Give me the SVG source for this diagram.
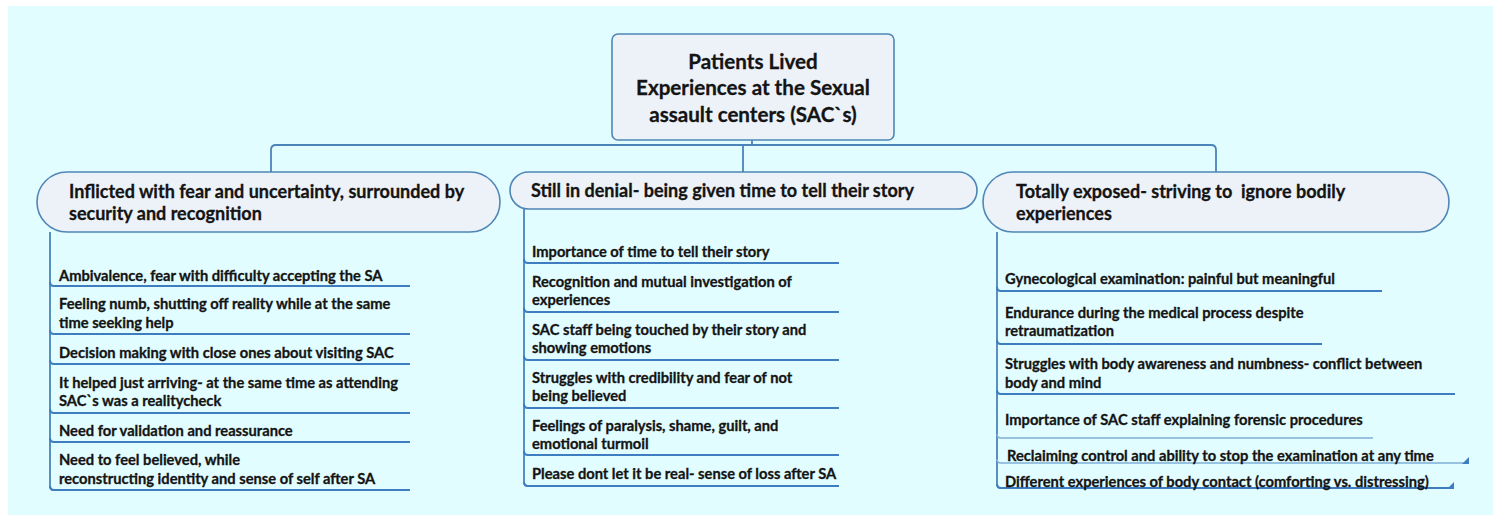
<svg xmlns="http://www.w3.org/2000/svg" width="1493" height="515" viewBox="0 0 1493 515">
<style>
.bg{fill:#e2fdff}
.box{fill:#edf2f9;stroke:#4f86b6;stroke-width:1.6}
.con{fill:none;stroke:#4a84b8;stroke-width:1.8}
.ul{fill:none;stroke:#3d7dc0;stroke-width:2}
.ul2{fill:none;stroke:#7fb0d8;stroke-width:1.5}
.tri{fill:#3d7dc0}
text{font-family:Lato,"Open Sans","Liberation Sans",sans-serif;font-weight:bold;fill:#141414;stroke:#141414;stroke-width:0.3}
.t0{font-size:20.6px}
.t1{font-size:18px}
.t2{font-size:14.7px}
</style>
<rect x="0" y="0" width="1493" height="515" fill="#ffffff"/>
<rect class="bg" x="8" y="6" width="1485" height="509"/>
<g id="connectors">
<path class="con" d="M752 140 V145 M271 172 V150 Q271 145 276 145 H1211 Q1216 145 1216 150 V172 M743 145 V172"/>
<path class="con" d="M50 232 V486 Q50 490 54 490"/>
<path class="con" d="M524 209 V482 Q524 486 528 486"/>
<path class="con" d="M997 232 V484 Q997 488 1001 488"/>
</g>
<g id="root">
<rect class="box" x="612" y="34" width="282" height="106" rx="6"/>
<text class="t0" x="753" y="69" text-anchor="middle">Patients Lived</text>
<text class="t0" x="753" y="95" text-anchor="middle">Experiences at the Sexual</text>
<text class="t0" x="753" y="122" text-anchor="middle">assault centers (SAC`s)</text>
</g>
<g id="branch1">
<rect class="box" x="37" y="172" width="463" height="60" rx="30"/>
<text class="t1" x="69" y="198">Inflicted with fear and uncertainty, surrounded by</text>
<text class="t1" x="69" y="220">security and recognition</text>
</g>
<g id="branch2">
<rect class="box" x="510" y="172" width="467" height="37" rx="18.5"/>
<text class="t1" x="531" y="197">Still in denial- being given time to tell their story</text>
</g>
<g id="branch3">
<rect class="box" x="983" y="172" width="466" height="60" rx="30"/>
<text class="t1" x="1016" y="198" xml:space="preserve">Totally exposed- striving to  ignore bodily</text>
<text class="t1" x="1016" y="220">experiences</text>
</g>
<g id="b1c1"><path class="ul" d="M50 282 Q50 286 54 286 H410"/><text class="t2" x="59" y="281">Ambivalence, fear with difficulty accepting the SA</text></g>
<g id="b1c2"><path class="ul" d="M50 330 Q50 334 54 334 H410"/><text class="t2" x="59" y="309">Feeling numb, shutting off reality while at the same</text><text class="t2" x="59" y="328">time seeking help</text></g>
<g id="b1c3"><path class="ul" d="M50 360 Q50 364 54 364 H410"/><text class="t2" x="59" y="358">Decision making with close ones about visiting SAC</text></g>
<g id="b1c4"><path class="ul" d="M50 409 Q50 413 54 413 H410"/><text class="t2" x="59" y="388">It helped just arriving- at the same time as attending</text><text class="t2" x="59" y="406">SAC`s was a realitycheck</text></g>
<g id="b1c5"><path class="ul" d="M50 438 Q50 442 54 442 H410"/><text class="t2" x="59" y="436">Need for validation and reassurance</text></g>
<g id="b1c6"><path class="ul" d="M50 486 Q50 490 54 490 H410"/><text class="t2" x="59" y="465">Need to feel believed, while</text><text class="t2" x="59" y="484">reconstructing identity and sense of self after SA</text></g>
<g id="b2c1"><path class="ul" d="M524 259 Q524 263 528 263 H839"/><text class="t2" x="532" y="257">Importance of time to tell their story</text></g>
<g id="b2c2"><path class="ul" d="M524 308 Q524 312 528 312 H839"/><text class="t2" x="532" y="287">Recognition and mutual investigation of</text><text class="t2" x="532" y="305">experiences</text></g>
<g id="b2c3"><path class="ul" d="M524 356 Q524 360 528 360 H839"/><text class="t2" x="532" y="335">SAC staff being touched by their story and</text><text class="t2" x="532" y="353">showing emotions</text></g>
<g id="b2c4"><path class="ul" d="M524 404 Q524 408 528 408 H839"/><text class="t2" x="532" y="383">Struggles with credibility and fear of not</text><text class="t2" x="532" y="401">being believed</text></g>
<g id="b2c5"><path class="ul" d="M524 451 Q524 455 528 455 H839"/><text class="t2" x="532" y="431">Feelings of paralysis, shame, guilt, and</text><text class="t2" x="532" y="449">emotional turmoil</text></g>
<g id="b2c6"><path class="ul" d="M524 482 Q524 486 528 486 H839"/><text class="t2" x="532" y="479">Please dont let it be real- sense of loss after SA</text></g>
<g id="b3c1"><path class="ul" d="M997 287 Q997 291 1001 291 H1382"/><text class="t2" x="1005" y="284">Gynecological examination: painful but meaningful</text></g>
<g id="b3c2"><path class="ul" d="M997 340 Q997 344 1001 344 H1322"/><text class="t2" x="1005" y="318">Endurance during the medical process despite</text><text class="t2" x="1005" y="336">retraumatization</text></g>
<g id="b3c3"><path class="ul" d="M997 390 Q997 394 1001 394 H1455"/><text class="t2" x="1005" y="369">Struggles with body awareness and numbness- conflict between</text><text class="t2" x="1005" y="388">body and mind</text></g>
<g id="b3c4"><path class="ul2" d="M997 434 Q997 438 1001 438 H1373"/><text class="t2" x="1005" y="425">Importance of SAC staff explaining forensic procedures</text></g>
<g id="b3c5"><path class="ul2" d="M997 459 Q997 463 1001 463 H1468"/><polygon class="tri" points="1462,464 1469,464 1469,457"/><text class="t2" x="1007" y="461">Reclaiming control and ability to stop the examination at any time</text></g>
<g id="b3c6"><path class="ul" d="M997 484 Q997 488 1001 488 H1453"/><polygon class="tri" points="1447,489 1454,489 1454,482"/><text class="t2" x="1005" y="487">Different experiences of body contact (comforting vs. distressing)</text></g>
</svg>
